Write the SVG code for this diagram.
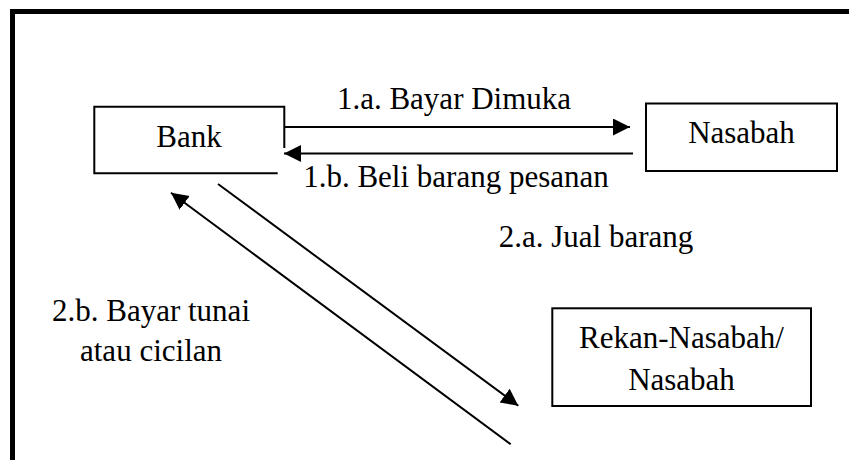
<svg xmlns="http://www.w3.org/2000/svg" width="849" height="460" viewBox="0 0 849 460">
  <style>
    .box { fill: none; stroke: #000; stroke-width: 2; }
    text { font-family: 'Liberation Serif', 'Times New Roman', Times, 'DejaVu Serif', serif; font-size: 31px; fill: #000; text-anchor: middle; }
    .flow { stroke: #000; stroke-width: 2; fill: none; }
  </style>
  <defs>
    <marker id="head" markerUnits="userSpaceOnUse" markerWidth="18" markerHeight="18" viewBox="0 0 18 18" refX="17" refY="8.5" orient="auto">
      <path d="M0,0 L17,8.5 L0,17 z" fill="#000"/>
    </marker>
  </defs>
  <rect width="849" height="460" fill="#fff"/>

  <!-- page frame (top and left edges) -->
  <path d="M12.5 460 V11.5 H849" fill="none" stroke="#000" stroke-width="5"/>

  <g id="bank">
    <path class="box" d="M277.7 173.3 H94.3 V106.7 H284.3 V148"/>
    <text x="189" y="147" font-family="Liberation Serif, DejaVu Serif, serif">Bank</text>
  </g>

  <g id="nasabah">
    <rect class="box" x="646" y="103.5" width="191" height="67.5"/>
    <text x="741.5" y="143" font-family="Liberation Serif, DejaVu Serif, serif">Nasabah</text>
  </g>

  <g id="rekan-nasabah">
    <rect class="box" x="552.3" y="308.3" width="258.7" height="97.7"/>
    <text x="681.5" y="348" font-family="Liberation Serif, DejaVu Serif, serif">Rekan-Nasabah/</text>
    <text x="681.5" y="390" font-family="Liberation Serif, DejaVu Serif, serif">Nasabah</text>
  </g>

  <g id="connectors">
    <line class="flow" x1="285" y1="127" x2="630" y2="127" marker-end="url(#head)"/>
    <line class="flow" x1="633" y1="153.5" x2="284" y2="153.5" marker-end="url(#head)"/>
    <line class="flow" x1="218" y1="184" x2="518.3" y2="405.7" marker-end="url(#head)"/>
    <line class="flow" x1="510.7" y1="444.3" x2="171" y2="192.7" marker-end="url(#head)"/>
  </g>

  <g id="labels" font-family="Liberation Serif, DejaVu Serif, serif">
    <text x="454" y="109">1.a. Bayar Dimuka</text>
    <text x="456" y="187">1.b. Beli barang pesanan</text>
    <text x="596" y="247">2.a. Jual barang</text>
    <text x="151" y="321">2.b. Bayar tunai</text>
    <text x="151" y="361">atau cicilan</text>
  </g>
</svg>
